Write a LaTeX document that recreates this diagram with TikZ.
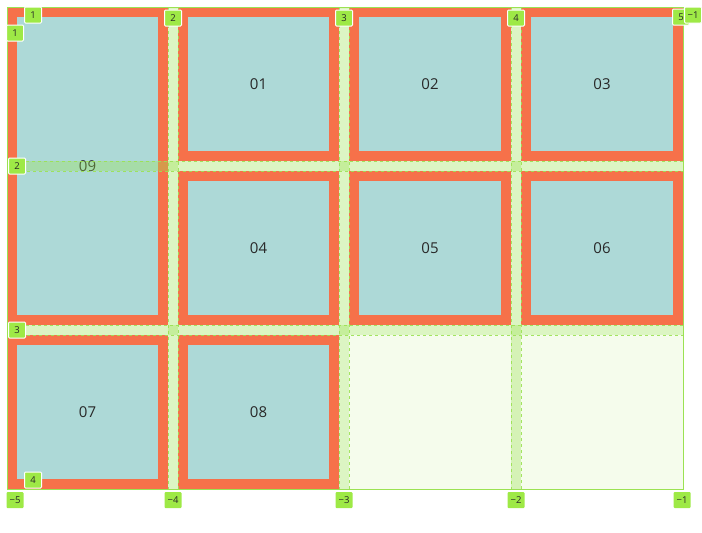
\documentclass[tikz,border=0pt]{standalone}
\usepackage{fontspec}
\setmainfont{Open Sans}
\usepackage{tikz}
\usetikzlibrary{positioning}

\definecolor{boxorange}{RGB}{246,113,74}
\definecolor{boxteal}{RGB}{173,217,215}
\definecolor{gapgreen}{RGB}{155,226,82}
\definecolor{emptycell}{RGB}{245,252,236}
\definecolor{badgegreen}{RGB}{158,233,70}
\definecolor{labeltext}{RGB}{40,40,40}

\begin{document}
\begin{tikzpicture}[x=1pt,y=-1pt,
  item/.style={draw=boxorange,line width=10pt,fill=boxteal,minimum width=151pt,
    minimum height=144pt,inner sep=0pt,text=labeltext,font=\fontsize{15}{18}\selectfont},
  gap/.style={fill=gapgreen,fill opacity=0.35,draw=gapgreen,draw opacity=0.9,
    dashed,line width=0.8pt},
  badge/.style={fill=badgegreen,draw=white,line width=1pt,rounded corners=1pt,
    minimum width=17pt,minimum height=16pt,inner sep=0pt,text=labeltext,
    font=\fontsize{9.5}{10}\selectfont},
  lowbadge/.style={badge,draw=none}]
\useasboundingbox (0,0) rectangle (702,533);

% empty cells
\fill[emptycell] (349,335) rectangle (683,489);

% grid items
\node[item] (i01) at (258.5,84) {01};
\node[item,minimum width=152pt] (i02) at (430,84) {02};
\node[item,minimum width=152pt] (i03) at (602,84) {03};
\node[item] (i04) at (258.5,248) {04};
\node[item,minimum width=152pt] (i05) at (430,248) {05};
\node[item,minimum width=152pt] (i06) at (602,248) {06};
\node[item] (i07) at (87.5,412) {07};
\node[item] (i08) at (258.5,412) {08};
\node[item,minimum height=308pt] (i09) at (87.5,166) {09};

% gaps and container
\draw[gap] (168,7) rectangle (178,489);
\draw[gap] (339,7) rectangle (349,489);
\draw[gap] (511,7) rectangle (521,489);
\draw[gap] (7,161) rectangle (683,171);
\draw[gap] (7,325) rectangle (683,335);
\draw[gapgreen,line width=1pt] (7,7) rectangle (683,489);

% line numbers
\node[badge] (top1) at (33,15) {1};
\node[badge] (top2) at (173,18) {2};
\node[badge] (top3) at (344,18) {3};
\node[badge] (top4) at (516,18) {4};
\node[badge] (top5) at (681,17) {5};
\node[badge] (topm1) at (693,15) {−1};
\node[badge] (left1) at (15,33) {1};
\node[badge] (left2) at (17,166) {2};
\node[badge] (left3) at (17,330) {3};
\node[badge] (left4) at (33,480) {4};
\node[lowbadge] (bot5) at (15,500) {−5};
\node[lowbadge] (bot4) at (173,500) {−4};
\node[lowbadge] (bot3) at (344,500) {−3};
\node[lowbadge] (bot2) at (516,500) {−2};
\node[lowbadge] (bot1) at (682,500) {−1};
\end{tikzpicture}
\end{document}
